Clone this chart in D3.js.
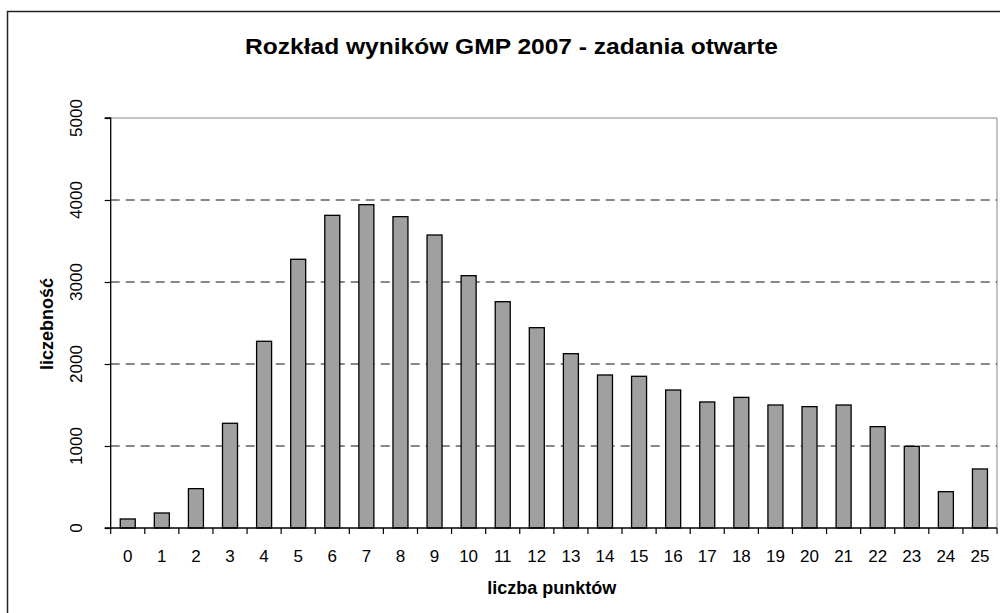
<!DOCTYPE html>
<html><head><meta charset="utf-8">
<script src="https://cdn.jsdelivr.net/npm/d3@7"></script>
<style>body{margin:0;background:#fff}svg{display:block}</style>
</head><body>
<svg id="c" width="1000" height="613"></svg>
<script>
const categories = ["0","1","2","3","4","5","6","7","8","9","10","11","12","13","14","15","16","17","18","19","20","21","22","23","24","25"];
const values = [110,183,480,1277,2277,3277,3813,3943,3797,3573,3077,2760,2443,2126,1866,1850,1683,1537,1593,1500,1480,1500,1236,996,443,720];
const yTicks = [0,1000,2000,3000,4000,5000];
const title = "Rozkład wyników GMP 2007 - zadania otwarte";
const xTitle = "liczba punktów";
const yTitle = "liczebność";

const svg = d3.select("#c");
const L = 110.7, R = 997, T = 118, B = 528;
const x = d3.scaleBand().domain(categories).range([L, R]).paddingInner(0.56).paddingOuter(0.28);
const xb = d3.scaleBand().domain(categories).range([L, R]);
const y = d3.scaleLinear().domain([0, 5000]).range([B, T]);
const font = "'Liberation Sans', Arial, sans-serif";

// outer frame
svg.append("rect").attr("x", 7.5).attr("y", 11.5).attr("width", 1100).attr("height", 700)
  .attr("fill", "none").attr("stroke", "#222").attr("stroke-width", 1.5);

// plot area border (top/right gray)
svg.append("path").attr("d", `M${L},${T}H${R}V${B}`).attr("fill","none").attr("stroke","#888").attr("stroke-width",1);

// gridlines
svg.append("g").selectAll("line").data(yTicks.filter(d => d > 0 && d < 5000)).join("line")
  .attr("x1", L).attr("x2", R).attr("y1", d => y(d)).attr("y2", d => y(d))
  .attr("stroke", "#111").attr("stroke-width", 1).attr("stroke-dasharray", "9,6");

// bars
svg.append("g").selectAll("rect").data(values).join("rect")
  .attr("x", (d, i) => x(categories[i]))
  .attr("y", d => y(d))
  .attr("width", x.bandwidth())
  .attr("height", d => B - y(d))
  .attr("fill", "#a0a0a0").attr("stroke", "#000").attr("stroke-width", 1.3);

// y axis
const yAxis = d3.axisLeft(y).tickValues(yTicks).tickSize(6).tickFormat("");
const gy = svg.append("g").attr("transform", `translate(${L},0)`).call(yAxis);
gy.select(".domain").attr("stroke", "#000").attr("stroke-width", 1.3).attr("d", `M-6,${T}H0V${B}H-6`);
gy.selectAll(".tick line").attr("stroke", "#000").attr("stroke-width", 1.2);
svg.append("g").selectAll("text").data(yTicks).join("text")
  .attr("transform", d => `translate(82,${y(d)}) rotate(-90)`)
  .attr("text-anchor", "middle").attr("font-family", font).attr("font-size", 17).attr("fill", "#000")
  .text(d => d);

// x axis
const xAxis = d3.axisBottom(xb).tickSize(0).tickFormat("");
const gx = svg.append("g").attr("transform", `translate(0,${B})`).call(xAxis);
gx.select(".domain").attr("stroke", "#000").attr("stroke-width", 1.3).attr("d", `M${L},0H${R}`);
const bounds = categories.map(c => xb(c)).concat([R]);
gx.selectAll(".sep").data(bounds).join("line").attr("class","sep")
  .attr("x1", d => d).attr("x2", d => d).attr("y1", 0).attr("y2", 6)
  .attr("stroke", "#000").attr("stroke-width", 1.2);
svg.append("g").selectAll("text").data(categories).join("text")
  .attr("x", d => xb(d) + xb.bandwidth() / 2).attr("y", 562)
  .attr("text-anchor", "middle").attr("font-family", font).attr("font-size", 17).attr("fill", "#000")
  .text(d => d);

// titles
svg.append("text").attr("x", 511.5).attr("y", 53.5).attr("text-anchor", "middle")
  .attr("font-family", font).attr("font-size", 22).attr("font-weight", "bold")
  .attr("textLength", 533).attr("lengthAdjust", "spacingAndGlyphs").text(title);
svg.append("text").attr("x", 551.7).attr("y", 594.3).attr("text-anchor", "middle")
  .attr("font-family", font).attr("font-size", 18).attr("font-weight", "bold").text(xTitle);
svg.append("text").attr("transform", `translate(53,324) rotate(-90)`).attr("text-anchor", "middle")
  .attr("font-family", font).attr("font-size", 18).attr("font-weight", "bold").text(yTitle);
</script>
</body></html>
